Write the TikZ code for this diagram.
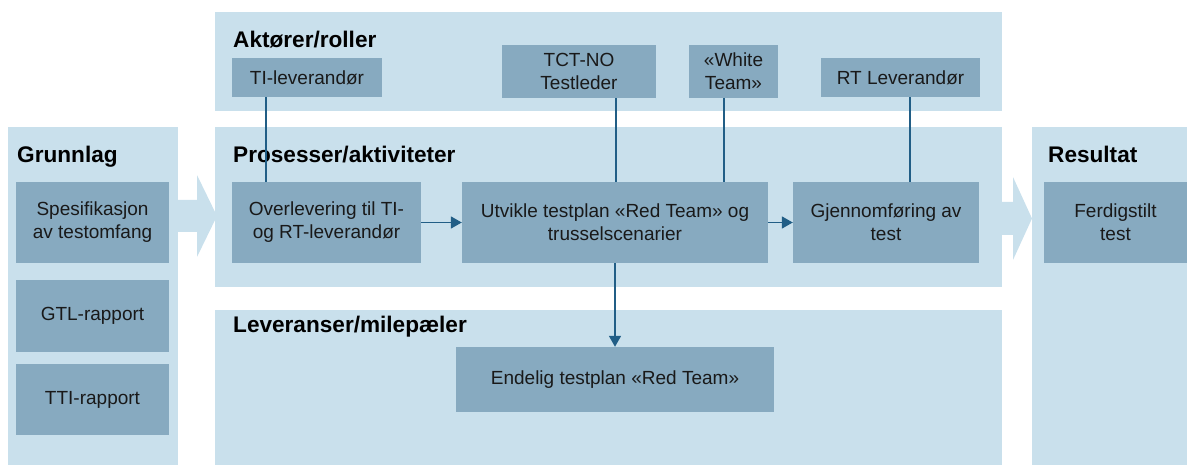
\documentclass[tikz,border=0pt]{standalone}
\usepackage{fontspec}
\setmainfont{Liberation Sans}
\usetikzlibrary{arrows.meta}
\definecolor{panelblue}{HTML}{C9E0EC}
\definecolor{boxblue}{HTML}{87AAC0}
\definecolor{linkblue}{HTML}{215E86}
\tikzset{
  boks/.style={fill=boxblue, inner sep=0pt, align=center, text=black!90,
    font=\fontsize{19}{23}\selectfont},
  head/.style={anchor=base west, inner sep=0pt, font=\bfseries\fontsize{22.6}{24}\selectfont},
  link/.style={draw=linkblue, line width=1.6pt},
  tip/.style={-{Triangle[length=11pt,width=12pt]}}
}
\begin{document}
\begin{tikzpicture}[x=1pt,y=-1pt]
\useasboundingbox (0,0) rectangle (1187,465);
\fill[panelblue] (8,127) rectangle (178,465);
\fill[panelblue] (215,12) rectangle (1002,111);
\fill[panelblue] (215,127) rectangle (1002,287);
\fill[panelblue] (215,310) rectangle (1002,465);
\fill[panelblue] (1032,127) rectangle (1187,465);
\fill[panelblue] (178,200) -- (197,200) -- (197,175) -- (217,216) -- (197,257) -- (197,232) -- (178,232) -- cycle;
\fill[panelblue] (1002,202) -- (1013,202) -- (1013,177) -- (1032,218.5) -- (1013,260) -- (1013,235) -- (1002,235) -- cycle;

\node[head] (grunnlag) at (17,163) {Grunnlag};
\node[head] (aktorer) at (233,48) {Aktører/roller};
\node[head] (prosesser) at (233,163) {Prosesser/aktiviteter};
\node[head] (leveranser) at (233,332) {Leveranser/milepæler};
\node[head] (resultat) at (1048,163) {Resultat};

\node[boks, minimum width=153, minimum height=81] (spes) at (92.5,222.5) {Spesifikasjon\\av testomfang};
\node[boks, minimum width=153, minimum height=72] (gtl) at (92.5,316) {GTL-rapport};
\node[boks, minimum width=153, minimum height=71] (tti) at (92.5,399.5) {TTI-rapport};

\node[boks, minimum width=150, minimum height=39] (tilev) at (307,77.5) {TI-leverandør};
\node[boks, minimum width=154, minimum height=53] (tct) at (579,71.5) {TCT-NO\\Testleder};
\node[boks, minimum width=89, minimum height=53] (white) at (733.5,71.5) {«White\\Team»};
\node[boks, minimum width=159, minimum height=39] (rtlev) at (900.5,77.5) {RT Leverandør};

\node[boks, minimum width=189, minimum height=81] (overl) at (326.5,222.5) {Overlevering til TI-\\og RT-leverandør};
\node[boks, minimum width=306, minimum height=81] (utv) at (615,222.5) {Utvikle testplan «Red Team» og\\trusselscenarier};
\node[boks, minimum width=186, minimum height=81] (gjen) at (886,222.5) {Gjennomføring av\\test};
\node[boks, minimum width=143, minimum height=81] (ferd) at (1115.5,222.5) {Ferdigstilt\\test};
\node[boks, minimum width=318, minimum height=65] (endelig) at (615,379.5) {Endelig testplan «Red Team»};

\draw[link] ([xshift=-41pt]tilev.south) -- ([xshift=-41pt]tilev.south |- overl.north);
\draw[link] ([xshift=37pt]tct.south) -- ([xshift=37pt]tct.south |- utv.north);
\draw[link] ([xshift=-9.5pt]white.south) -- ([xshift=-9.5pt]white.south |- utv.north);
\draw[link] ([xshift=9.5pt]rtlev.south) -- ([xshift=9.5pt]rtlev.south |- gjen.north);
\draw[link, tip] (overl) -- (utv);
\draw[link, tip] (utv) -- (gjen);
\draw[link, tip] (utv) -- (endelig);
\end{tikzpicture}
\end{document}
